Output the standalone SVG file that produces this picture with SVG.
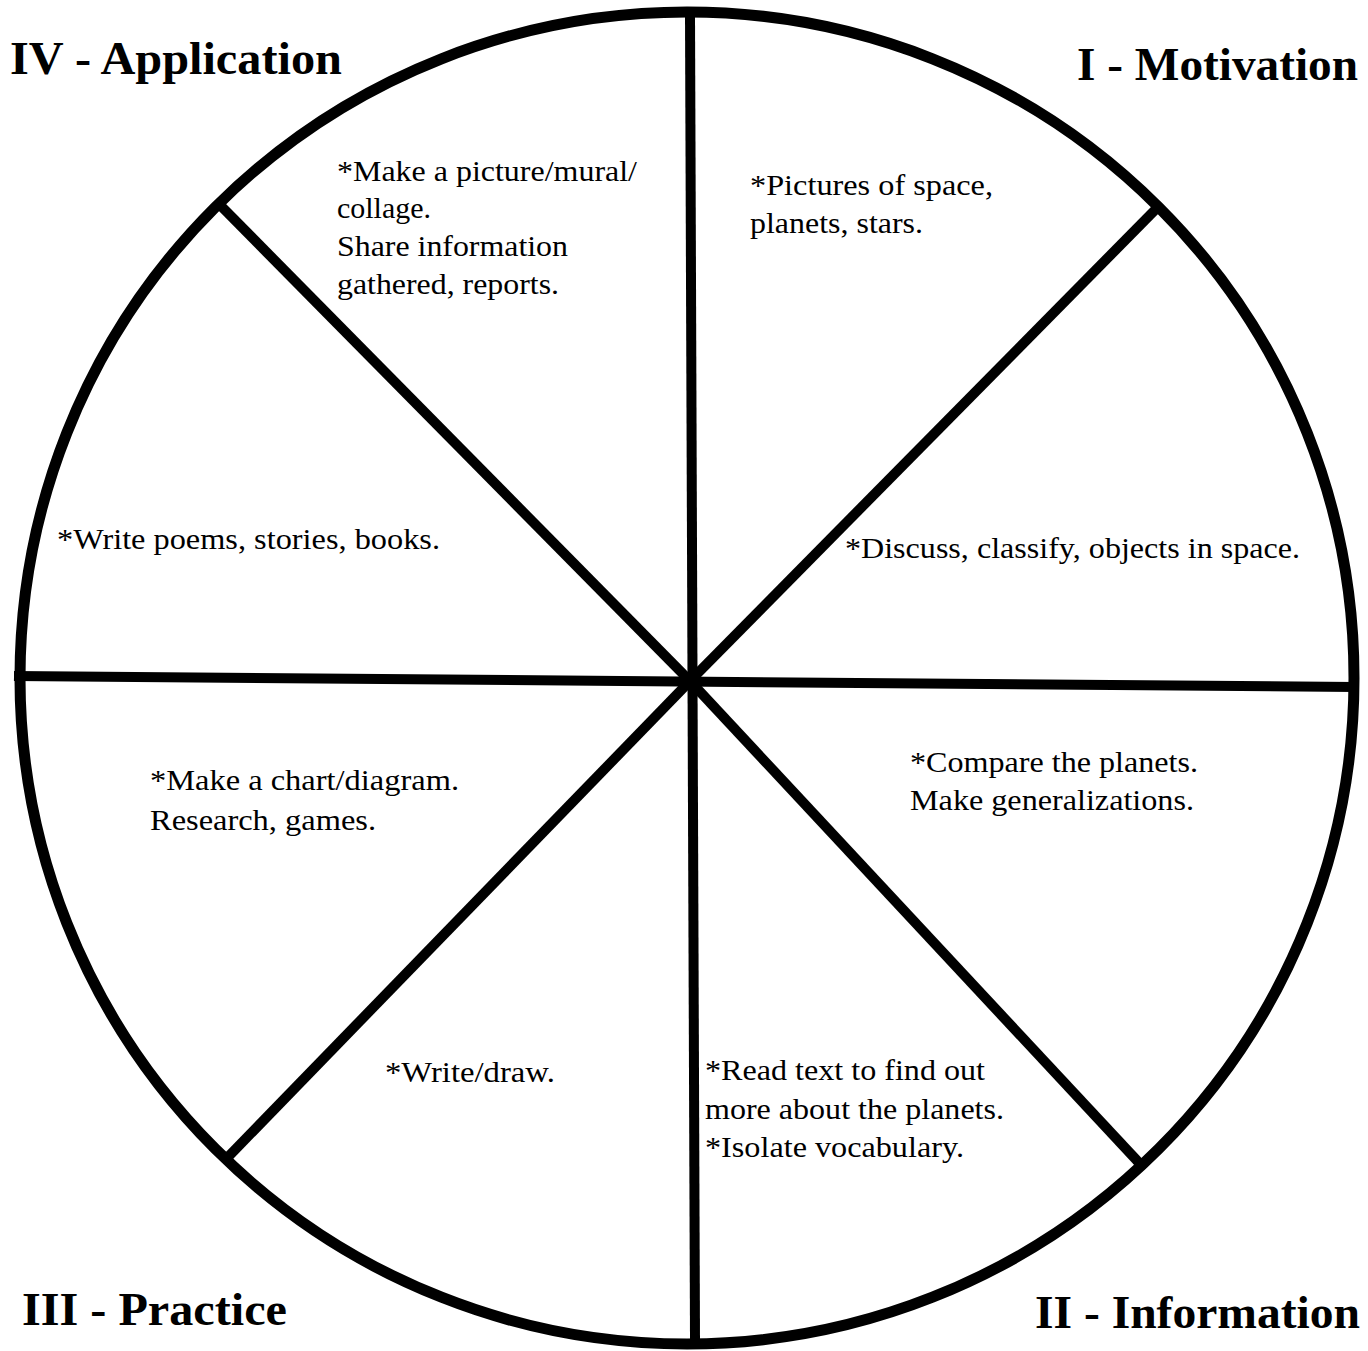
<svg xmlns="http://www.w3.org/2000/svg" width="1368" height="1351" viewBox="0 0 1368 1351">
<style>
.t{font-family:"Liberation Serif","Times New Roman",serif;font-size:30px;fill:#000}
.h{font-family:"Liberation Serif","Times New Roman",serif;font-size:46px;font-weight:bold;fill:#000}
.ln{stroke:#000;stroke-width:10;stroke-linecap:butt;fill:none}
</style>
<rect width="1368" height="1351" fill="#fff"/>
<g id="wheel">
<ellipse cx="687" cy="678" rx="667" ry="666" fill="none" stroke="#000" stroke-width="11"/>
</g>
<g id="connectors">
<line class="ln" x1="690" y1="16" x2="695" y2="1340"/>
<line class="ln" x1="14" y1="676" x2="1355" y2="687"/>
<line class="ln" x1="220" y1="205" x2="690" y2="681"/>
<line class="ln" x1="1157" y1="208" x2="690" y2="681"/>
<line class="ln" x1="228" y1="1157" x2="690" y2="681"/>
<line class="ln" x1="1143" y1="1167" x2="690" y2="681"/>
</g>
<g id="title-application"><text class="h" x="10" y="74" textLength="332" lengthAdjust="spacingAndGlyphs">IV - Application</text></g>
<g id="title-motivation"><text class="h" x="1077" y="80" textLength="281" lengthAdjust="spacingAndGlyphs">I - Motivation</text></g>
<g id="title-practice"><text class="h" x="22" y="1325" textLength="265" lengthAdjust="spacingAndGlyphs">III - Practice</text></g>
<g id="title-information"><text class="h" x="1035" y="1328" textLength="325" lengthAdjust="spacingAndGlyphs">II - Information</text></g>
<g id="seg-picture">
<text class="t" x="337" y="181" textLength="300" lengthAdjust="spacingAndGlyphs">*Make a picture/mural/</text>
<text class="t" x="337" y="218" textLength="94" lengthAdjust="spacingAndGlyphs">collage.</text>
<text class="t" x="337" y="256" textLength="231" lengthAdjust="spacingAndGlyphs">Share information</text>
<text class="t" x="337" y="294" textLength="222" lengthAdjust="spacingAndGlyphs">gathered, reports.</text>
</g>
<g id="seg-pictures-space">
<text class="t" x="750" y="195" textLength="243" lengthAdjust="spacingAndGlyphs">*Pictures of space,</text>
<text class="t" x="750" y="233" textLength="173" lengthAdjust="spacingAndGlyphs">planets, stars.</text>
</g>
<g id="seg-write-poems">
<text class="t" x="57" y="549" textLength="383" lengthAdjust="spacingAndGlyphs">*Write poems, stories, books.</text>
</g>
<g id="seg-discuss">
<text class="t" x="845" y="558" textLength="455" lengthAdjust="spacingAndGlyphs">*Discuss, classify, objects in space.</text>
</g>
<g id="seg-chart">
<text class="t" x="150" y="790" textLength="309" lengthAdjust="spacingAndGlyphs">*Make a chart/diagram.</text>
<text class="t" x="150" y="830" textLength="226" lengthAdjust="spacingAndGlyphs">Research, games.</text>
</g>
<g id="seg-compare">
<text class="t" x="910" y="772" textLength="288" lengthAdjust="spacingAndGlyphs">*Compare the planets.</text>
<text class="t" x="910" y="810" textLength="284" lengthAdjust="spacingAndGlyphs">Make generalizations.</text>
</g>
<g id="seg-write-draw">
<text class="t" x="385" y="1082" textLength="170" lengthAdjust="spacingAndGlyphs">*Write/draw.</text>
</g>
<g id="seg-read">
<text class="t" x="705" y="1080" textLength="280" lengthAdjust="spacingAndGlyphs">*Read text to find out</text>
<text class="t" x="705" y="1119" textLength="299" lengthAdjust="spacingAndGlyphs">more about the planets.</text>
<text class="t" x="705" y="1157" textLength="259" lengthAdjust="spacingAndGlyphs">*Isolate vocabulary.</text>
</g>
</svg>
